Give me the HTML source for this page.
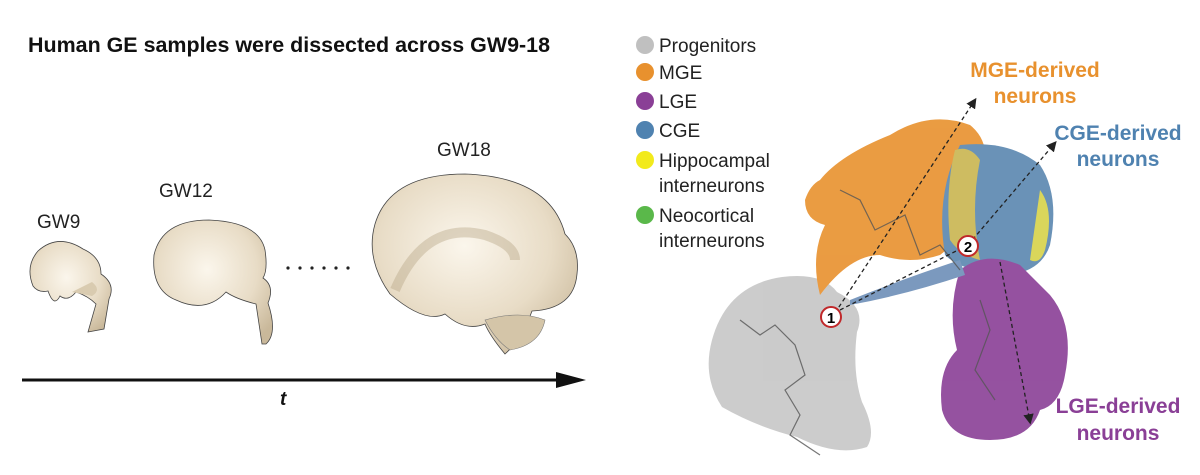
<!DOCTYPE html>
<html><head><meta charset="utf-8"><style>
html,body{margin:0;padding:0;background:#fff;width:1200px;height:475px;overflow:hidden}
svg{display:block}
</style></head><body>
<svg width="1200" height="475" viewBox="0 0 1200 475" xmlns="http://www.w3.org/2000/svg" font-family="Liberation Sans, sans-serif">
<defs>
<radialGradient id="br" cx="0.45" cy="0.4" r="0.7"><stop offset="0" stop-color="#fbf6ec"/><stop offset="0.6" stop-color="#e8dcc6"/><stop offset="1" stop-color="#c9b89a"/></radialGradient>
<marker id="ah" markerWidth="8" markerHeight="8" refX="6" refY="4" orient="auto"><path d="M0,0 L8,4 L0,8 Z" fill="#222"/></marker>
</defs>
<text x="28" y="52" font-size="21" font-weight="bold" fill="#111" textLength="522" lengthAdjust="spacingAndGlyphs">Human GE samples were dissected across GW9-18</text>
<text x="37" y="228" font-size="19" fill="#222">GW9</text>
<text x="159" y="197" font-size="19" fill="#222">GW12</text>
<text x="437" y="156" font-size="19" fill="#222">GW18</text>
<!-- GW9 -->
<path d="M88,332 l8,-28 q-8,-8 -20,-12 q-8,10 -16,4 q-6,12 -12,-5 q-10,2 -15,-5 q-8,-20 5,-35 q20,-18 45,-2 q18,8 18,25 q15,10 8,25 l-5,30 z" fill="url(#br)" stroke="#444" stroke-width="0.8"/>
<path d="M72,292 q10,-5 20,-10 q10,8 0,14z" fill="#d9cbb0"/>
<!-- GW12 -->
<path d="M262,344 l-6,-40 q-20,-5 -30,-12 q-20,22 -50,8 q-25,-10 -22,-45 q8,-35 55,-35 q50,2 56,30 q3,20 -2,28 q12,8 5,25 q10,30 -2,41 z" fill="url(#br)" stroke="#444" stroke-width="0.8"/>
<circle cx="288" cy="268" r="1.6" fill="#222"/><circle cx="300" cy="268" r="1.6" fill="#222"/><circle cx="312" cy="268" r="1.6" fill="#222"/><circle cx="324" cy="268" r="1.6" fill="#222"/><circle cx="336" cy="268" r="1.6" fill="#222"/><circle cx="348" cy="268" r="1.6" fill="#222"/>
<!-- GW18 -->
<path d="M505,354 q-15,-18 -20,-30 q-20,8 -40,-10 q-20,10 -55,-20 q-25,-35 -15,-70 q15,-50 90,-50 q85,3 100,60 q15,15 12,40 q-3,35 -45,37 q-10,28 -27,43 z" fill="url(#br)" stroke="#444" stroke-width="0.8"/>
<path d="M395,290 q30,-70 90,-55 q30,10 30,25" fill="none" stroke="#b5a281" stroke-width="10" opacity="0.4"/>
<path d="M485,320 q35,-10 60,0 q-5,25 -35,30 q-15,-10 -25,-30z" fill="#d4c5a8" stroke="#777" stroke-width="0.6"/>
<!-- arrow -->
<line x1="22" y1="380" x2="560" y2="380" stroke="#111" stroke-width="3"/>
<path d="M556,372 L586,380 L556,388 Z" fill="#111"/>
<text x="280" y="405" font-size="19" font-weight="bold" font-style="italic" fill="#111">t</text>
<!-- legend -->
<g font-size="19" fill="#222">
<circle cx="645" cy="45" r="9" fill="#c0c0c0"/><text x="659" y="52">Progenitors</text>
<circle cx="645" cy="72" r="9" fill="#e8912e"/><text x="659" y="79">MGE</text>
<circle cx="645" cy="101" r="9" fill="#8a3f96"/><text x="659" y="108">LGE</text>
<circle cx="645" cy="130" r="9" fill="#4f82b0"/><text x="659" y="137">CGE</text>
<circle cx="645" cy="160" r="9" fill="#f2ea1c"/><text x="659" y="167">Hippocampal</text><text x="659" y="192">interneurons</text>
<circle cx="645" cy="215" r="9" fill="#5ab84a"/><text x="659" y="222">Neocortical</text><text x="659" y="247">interneurons</text>
</g>
<!-- UMAP blobs -->
<g opacity="0.9">
<path d="M712,340 q15,-55 70,-63 q40,-5 55,15 q30,15 20,40 q-5,40 5,70 q15,30 5,45 q-30,10 -70,-10 q-40,-10 -75,-30 q-20,-30 -10,-67z" fill="#c6c6c6"/>
<path d="M820,180 q20,-25 70,-45 q40,-25 80,-10 q25,20 10,60 q0,40 -40,70 q-30,10 -60,0 q-30,0 -60,40 q-10,-40 5,-70 q-20,-5 -20,-25 q5,-15 15,-20z" fill="#e8912e"/>
<path d="M960,145 q50,-5 80,20 q20,30 10,80 q-10,30 -50,30 q-40,-5 -55,-20 q-10,-60 15,-110z" fill="#5a87b0"/>
<path d="M955,150 q15,-5 25,10 q-10,50 0,100 q-20,-5 -30,-20 q-5,-50 5,-90z" fill="#c9b550"/>
<path d="M1040,190 q15,20 5,60 q-5,15 -15,10 q5,-35 10,-70z" fill="#d6d24a"/>
<path d="M960,270 q25,-20 60,-5 q20,20 30,30 q25,30 15,80 q-5,30 -25,35 q-10,30 -50,30 q-40,0 -48,-30 q-5,-40 15,-60 q-10,-40 3,-80z" fill="#8a3f96"/>
<path d="M850,300 q50,-20 110,-40 l5,15 q-60,20 -115,30z" fill="#6d8fb8"/>
</g>
<g fill="none" stroke="#555" stroke-width="1.2" opacity="0.8">
<path d="M740,320 l20,15 l15,-10 l20,20 l10,30 l-20,15 l15,25 l-10,20 l30,20"/>
<path d="M840,190 l20,10 l15,30 l30,-15 l15,40 l20,-10 l20,25"/>
<path d="M980,300 l10,30 l-15,40 l20,30"/>
</g>
<g fill="none" stroke="#222" stroke-width="1.3" stroke-dasharray="4,3">
<line x1="835" y1="313" x2="975" y2="100" marker-end="url(#ah)"/>
<line x1="840" y1="310" x2="968" y2="245"/>
<line x1="968" y1="245" x2="1055" y2="143" marker-end="url(#ah)"/>
<line x1="1000" y1="262" x2="1030" y2="422" marker-end="url(#ah)"/>
</g>
<circle cx="831" cy="317" r="10" fill="#fff" stroke="#c0282a" stroke-width="2"/><text x="831" y="323" font-size="15" font-weight="bold" text-anchor="middle">1</text>
<circle cx="968" cy="246" r="10" fill="#fff" stroke="#c0282a" stroke-width="2"/><text x="968" y="252" font-size="15" font-weight="bold" text-anchor="middle">2</text>
<g font-size="21" font-weight="bold" text-anchor="middle">
<text x="1035" y="77" fill="#e8912e">MGE-derived</text><text x="1035" y="103" fill="#e8912e">neurons</text>
<text x="1118" y="140" fill="#4f82b0">CGE-derived</text><text x="1118" y="166" fill="#4f82b0">neurons</text>
<text x="1118" y="413" fill="#8a3f96">LGE-derived</text><text x="1118" y="440" fill="#8a3f96">neurons</text>
</g>
</svg>
</body></html>
